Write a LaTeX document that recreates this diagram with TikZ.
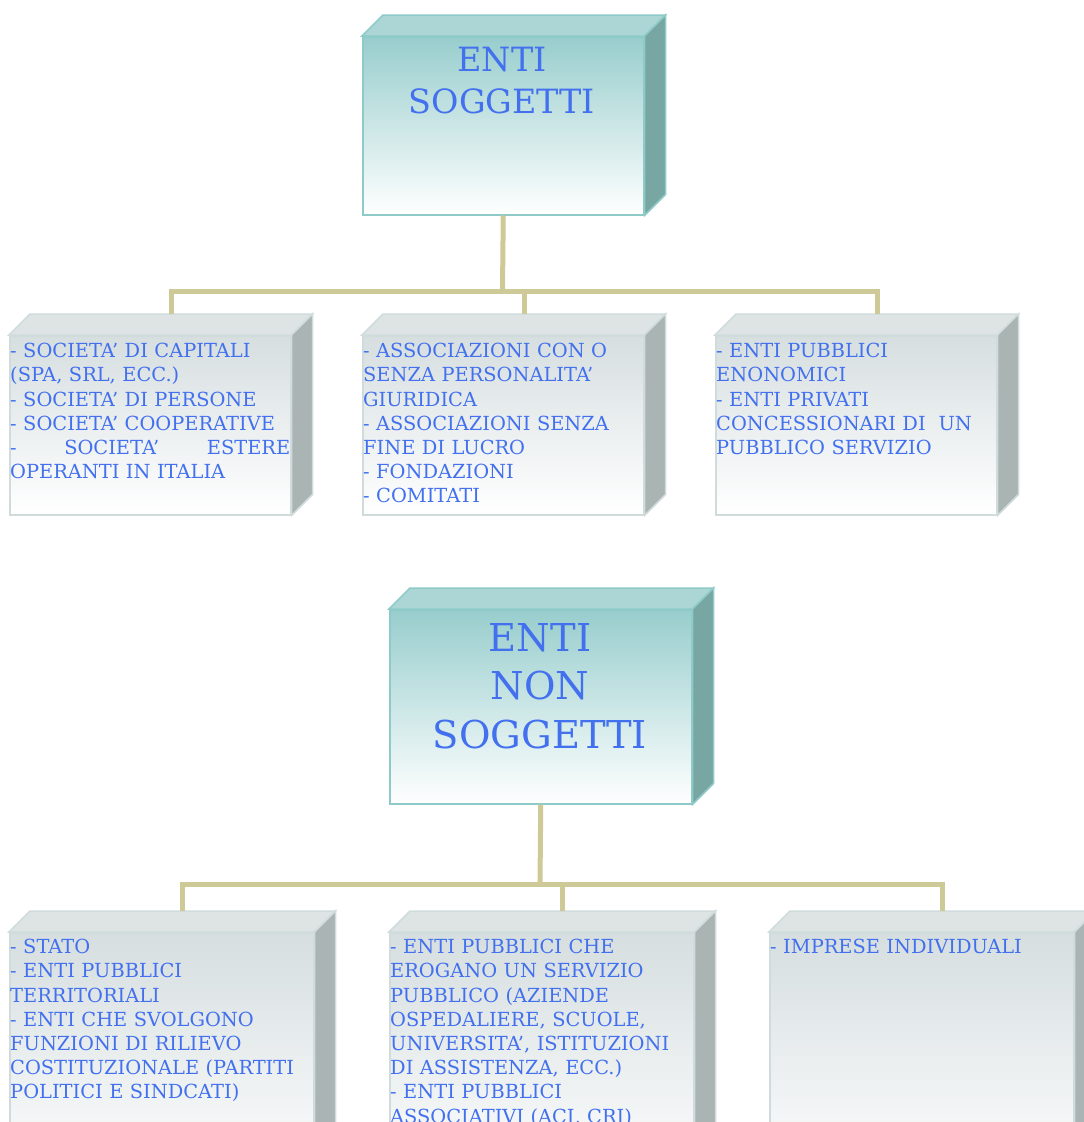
\documentclass[tikz,border=0pt]{standalone}
\usepackage{fontspec}
\setmainfont{DejaVu Serif}
\definecolor{blu}{RGB}{66,112,238}
\definecolor{tealfront}{RGB}{152,205,205}
\definecolor{tealtop}{RGB}{172,214,214}
\definecolor{tealside}{RGB}{120,166,162}
\definecolor{tealbordo}{RGB}{142,202,200}
\definecolor{grigiofront}{RGB}{214,222,224}
\definecolor{grigiotop}{RGB}{222,228,228}
\definecolor{grigioside}{RGB}{170,180,178}
\definecolor{grigiobordo}{RGB}{208,220,220}
\definecolor{linea}{RGB}{206,202,152}

\begin{document}
\begin{tikzpicture}[x=1pt,y=-1pt,line join=miter,
    titolo/.style={draw=tealbordo,line width=1.5pt,top color=tealfront,bottom color=white,inner sep=0pt,anchor=north west},
    voce/.style={draw=grigiobordo,line width=1.5pt,top color=grigiofront,bottom color=white,inner sep=0pt,anchor=north west},
    titolotesto/.style={text=blu,align=center,inner sep=0pt,anchor=north},
    vocetesto/.style={text=blu,align=left,inner sep=0pt,anchor=north west,font=\fontsize{19.4}{24.2}\selectfont},
    ramo/.style={draw=linea,line width=5pt}]
        \useasboundingbox (0,0) rectangle (1084,1122);
        \clip (0,0) rectangle (1084,1122);
        % ENTI SOGGETTI
        \node[titolo,minimum width=281pt,minimum height=178pt] (es) at (362,36) {};
        \node[voce,minimum width=281pt,minimum height=179pt] (es1) at (9,335) {};
        \node[voce,minimum width=281pt,minimum height=179pt] (es2) at (362,335) {};
        \node[voce,minimum width=281pt,minimum height=179pt] (es3) at (715,335) {};
        % ENTI NON SOGGETTI
        \node[titolo,minimum width=302pt,minimum height=194pt] (ns) at (389,609) {};
        \node[voce,minimum width=304pt,minimum height=260pt] (ns1) at (9,932) {};
        \node[voce,minimum width=304pt,minimum height=260pt] (ns2) at (389,932) {};
        \node[voce,minimum width=304pt,minimum height=260pt] (ns3) at (769,932) {};
        % facce in profondita'
        \foreach \n in {es,ns} {
            \filldraw[fill=tealtop,draw=tealbordo,line width=1.5pt] (\n.north west) -- ++(21,-21) -- ([shift={(21,-21)}]\n.north east) -- (\n.north east) -- cycle;
            \filldraw[fill=tealside,draw=tealbordo,line width=1.5pt] (\n.north east) -- ++(21,-21) -- ([shift={(21,-21)}]\n.south east) -- (\n.south east) -- cycle;
        }
        \foreach \n in {es1,es2,es3,ns1,ns2,ns3} {
            \filldraw[fill=grigiotop,draw=grigiobordo,line width=1.5pt] (\n.north west) -- ++(21,-21) -- ([shift={(21,-21)}]\n.north east) -- (\n.north east) -- cycle;
            \filldraw[fill=grigioside,draw=grigiobordo,line width=1.5pt] (\n.north east) -- ++(21,-21) -- ([shift={(21,-21)}]\n.south east) -- (\n.south east) -- cycle;
            \coordinate (\n c) at ([shift={(21,-21)}]\n.north);
        }
        % rami
        \coordinate (esnodo) at (502.5,291);
        \coordinate (nsnodo) at (540,884);
        \draw[ramo] (es.south) -- (esnodo);
        \draw[ramo] (es1c) -- (es1c |- esnodo) -- (es3c |- esnodo) -- (es3c);
        \draw[ramo] (es2c) -- (es2c |- esnodo);
        \draw[ramo] (ns.south) -- (nsnodo);
        \draw[ramo] (ns1c) -- (ns1c |- nsnodo) -- (ns3c |- nsnodo) -- (ns3c);
        \draw[ramo] (ns2c) -- (ns2c |- nsnodo);
        % testi
        \node[titolotesto,font=\fontsize{33.4}{42}\selectfont] (est) at (502,47) {ENTI\\SOGGETTI};
        \node[titolotesto,font=\fontsize{38.4}{48.5}\selectfont] (nst) at (540,623) {ENTI\\NON\\SOGGETTI};
        \node[vocetesto,text width=280pt] (es1t) at (10,343) {- SOCIETA’ DI CAPITALI\\(SPA, SRL, ECC.)\\- SOCIETA’ DI PERSONE\\- SOCIETA’ COOPERATIVE\\-\hfill SOCIETA’\hfill ESTERE\\OPERANTI IN ITALIA};
        \node[vocetesto,text width=280pt] (es2t) at (363,343) {- ASSOCIAZIONI CON O\\SENZA PERSONALITA’\\GIURIDICA\\- ASSOCIAZIONI SENZA\\FINE DI LUCRO\\- FONDAZIONI\\- COMITATI};
        \node[vocetesto,text width=280pt] (es3t) at (716,343) {- ENTI PUBBLICI\\ENONOMICI\\- ENTI PRIVATI\\CONCESSIONARI DI\ \ UN\\PUBBLICO SERVIZIO};
        \node[vocetesto,text width=302pt] (ns1t) at (10,939) {- STATO\\- ENTI PUBBLICI\\TERRITORIALI\\- ENTI CHE SVOLGONO\\FUNZIONI DI RILIEVO\\COSTITUZIONALE (PARTITI\\POLITICI E SINDCATI)};
        \node[vocetesto,text width=302pt] (ns2t) at (390,939) {- ENTI PUBBLICI CHE\\EROGANO UN SERVIZIO\\PUBBLICO (AZIENDE\\OSPEDALIERE, SCUOLE,\\UNIVERSITA’, ISTITUZIONI\\DI ASSISTENZA, ECC.)\\- ENTI PUBBLICI\\ASSOCIATIVI (ACI, CRI)};
        \node[vocetesto,text width=302pt] (ns3t) at (770,939) {- IMPRESE INDIVIDUALI};
\end{tikzpicture}
\end{document}
